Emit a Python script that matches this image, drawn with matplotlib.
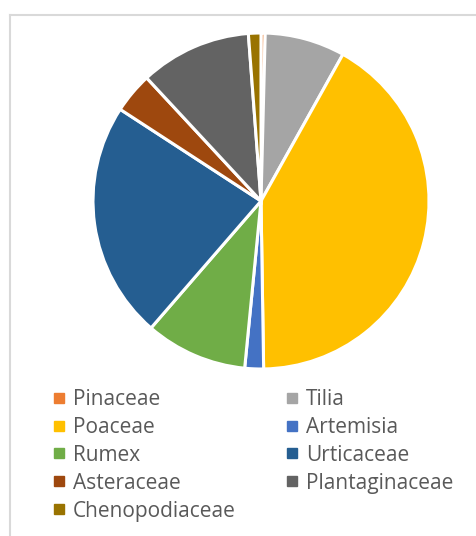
import matplotlib
matplotlib.use("Agg")
import matplotlib.pyplot as plt
from matplotlib.lines import Line2D

categories = ["Pinaceae", "Tilia", "Poaceae", "Artemisia", "Rumex",
              "Urticaceae", "Asteraceae", "Plantaginaceae", "Chenopodiaceae"]
values = [0.4, 7.7, 41.6, 1.8, 9.8, 22.8, 3.9, 10.7, 1.2]
colors = ["#ED7D31", "#A5A5A5", "#FFC000", "#4472C4", "#70AD47",
          "#255E91", "#9E480E", "#636363", "#997300"]

W, H = 476, 536
fig = plt.figure(figsize=(W / 100, H / 100), dpi=100)
fig.patch.set_facecolor("white")

# frame (top and left lines)
fig.add_artist(Line2D([10 / W, 10 / W], [0, 1 - 15 / H], color="#D9D9D9", lw=1.5))
fig.add_artist(Line2D([10 / W, 1], [1 - 15 / H, 1 - 15 / H], color="#D9D9D9", lw=1.5))

cx, cy, r = 261, 201, 168
ax = fig.add_axes([(cx - r) / W, 1 - (cy + r) / H, 2 * r / W, 2 * r / H])
ax.pie(values, colors=colors, startangle=90, counterclock=False, radius=1,
       wedgeprops=dict(edgecolor="white", linewidth=2.2))
ax.set_xlim(-1, 1)
ax.set_ylim(-1, 1)
ax.set_aspect("equal")
ax.axis("off")

def make_handle(i):
    return Line2D([], [], marker="s", linestyle="none", markersize=6.5,
                  markerfacecolor=colors[i], markeredgecolor=colors[i])

fs = 15
common = dict(loc="upper left", frameon=False,
              prop=dict(family="Open Sans", size=fs), labelcolor="#595959",
              handlelength=0.77, handletextpad=0.31, labelspacing=0.33,
              borderaxespad=0, borderpad=0)
col1 = [0, 2, 4, 6, 8]
col2 = [1, 3, 5, 7]
leg1 = fig.legend([make_handle(i) for i in col1], [categories[i] for i in col1],
                  bbox_to_anchor=(50.5 / W, 1 - 389 / H), **common)
leg2 = fig.legend([make_handle(i) for i in col2], [categories[i] for i in col2],
                  bbox_to_anchor=(283.5 / W, 1 - 389 / H), **common)

fig.savefig("out.png", dpi=100, facecolor="white")
